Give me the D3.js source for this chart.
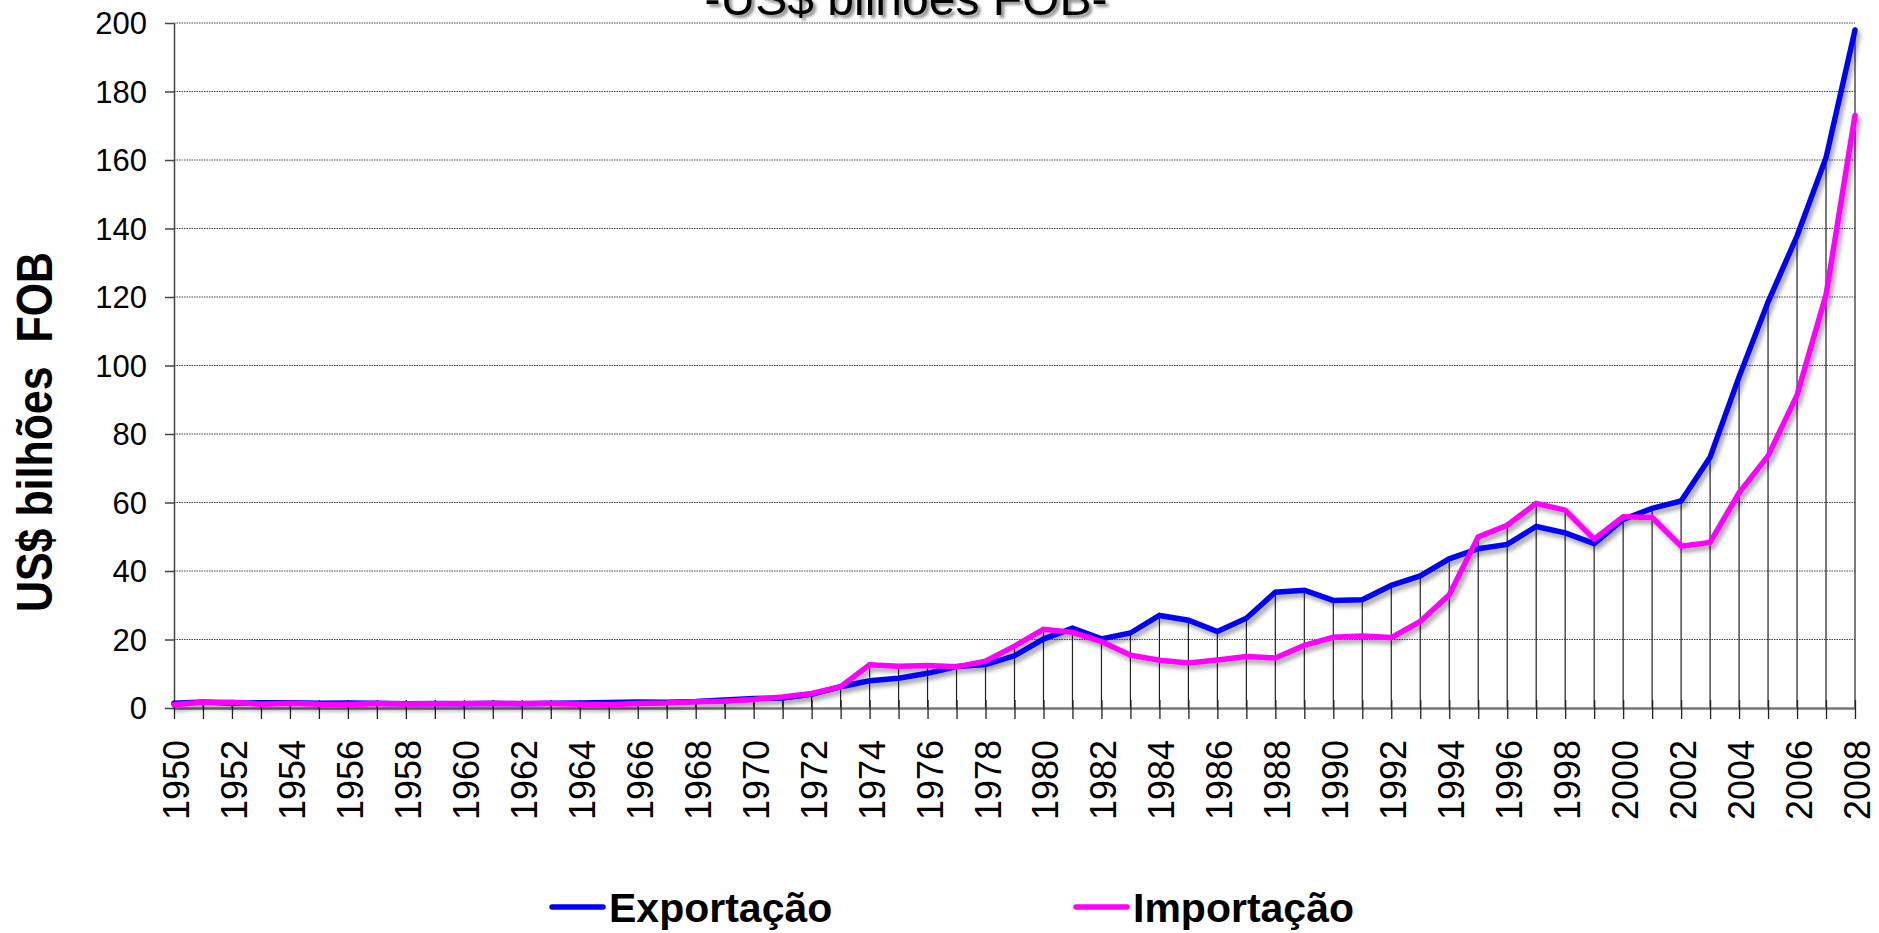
<!DOCTYPE html>
<html><head><meta charset="utf-8">
<script src="https://cdn.jsdelivr.net/npm/d3@7"></script>
<style>
body{margin:0;background:#fff;}
svg{display:block;font-family:Arial,'Liberation Sans',sans-serif;}
</style>
</head><body>
<svg id="c" width="1879" height="933"></svg>
<script>
const years = [1950,1951,1952,1953,1954,1955,1956,1957,1958,1959,1960,1961,1962,1963,1964,1965,1966,1967,1968,1969,
1970,1971,1972,1973,1974,1975,1976,1977,1978,1979,1980,1981,1982,1983,1984,1985,1986,1987,1988,1989,
1990,1991,1992,1993,1994,1995,1996,1997,1998,1999,2000,2001,2002,2003,2004,2005,2006,2007,2008];
const exportacao = [1.36,1.77,1.42,1.54,1.56,1.42,1.48,1.39,1.24,1.28,1.27,1.40,1.21,1.41,1.43,1.60,1.74,1.65,1.88,2.31,
2.74,2.90,3.99,6.20,7.95,8.67,10.13,12.12,12.66,15.24,20.13,23.29,20.18,21.90,27.01,25.64,22.35,26.22,33.79,34.38,
31.41,31.62,35.79,38.55,43.55,46.51,47.75,52.99,51.14,48.01,55.09,58.29,60.44,73.20,96.68,118.53,137.81,160.65,197.94];
const importacao = [0.93,1.70,1.70,1.12,1.41,1.10,1.05,1.28,1.18,1.21,1.29,1.29,1.30,1.29,1.09,0.94,1.30,1.44,1.86,1.99,
2.51,3.25,4.23,6.19,12.64,12.21,12.38,12.02,13.68,18.08,22.96,22.09,19.40,15.43,13.92,13.15,14.04,15.05,14.61,18.26,
20.66,21.04,20.55,25.26,33.08,49.97,53.35,59.75,57.76,49.30,55.85,55.60,47.24,48.33,62.84,73.61,91.35,120.62,172.98];
const yTicks = [0,20,40,60,80,100,120,140,160,180,200];
const xLabelYears = [1950,1952,1954,1956,1958,1960,1962,1964,1966,1968,1970,1972,1974,1976,1978,1980,1982,1984,1986,1988,
1990,1992,1994,1996,1998,2000,2002,2004,2006,2008];
const seriesNames = ["Exportação","Importação"];
const seriesColors = ["#0000ff","#ff00ff"];
const titleText = "-US$ bilhões FOB-";
const yTitle = "US$ bilhões  FOB";

const svg = d3.select("#c");
const x = d3.scaleLinear().domain([1950,2008]).range([174,1855]);
const y = d3.scaleLinear().domain([0,200]).range([708,23]);

const defs = svg.append("defs");
const f = defs.append("filter").attr("id","sh").attr("x","-5%").attr("y","-5%").attr("width","110%").attr("height","115%");
f.append("feDropShadow").attr("dx",3).attr("dy",4).attr("stdDeviation",2.2)
  .attr("flood-color","#000").attr("flood-opacity",0.35);
const ft = defs.append("filter").attr("id","tsh").attr("x","-5%").attr("y","-50%").attr("width","110%").attr("height","200%");
ft.append("feDropShadow").attr("dx",3).attr("dy",3).attr("stdDeviation",1.5)
  .attr("flood-color","#000").attr("flood-opacity",0.45);

// gridlines
svg.append("g").selectAll("line").data(yTicks.filter(d=>d>0)).join("line")
  .attr("x1",x(1950)).attr("x2",x(2008)).attr("y1",d=>y(d)).attr("y2",d=>y(d))
  .attr("stroke","#444").attr("stroke-width",1).attr("stroke-dasharray","1.5 1");

// drop lines
svg.append("g").selectAll("line").data(years).join("line")
  .attr("x1",d=>x(d)).attr("x2",d=>x(d))
  .attr("y1",(d,i)=>y(Math.max(exportacao[i],importacao[i]))).attr("y2",y(0))
  .attr("stroke","#222").attr("stroke-width",1.2);

// y axis
const ya = d3.axisLeft(y).tickValues(yTicks).tickSize(9).tickPadding(18).tickSizeOuter(0);
const gy = svg.append("g").attr("transform",`translate(${x(1950)},0)`).call(ya);
gy.select(".domain").attr("stroke","#444").attr("stroke-width",1.5);
gy.selectAll(".tick line").attr("stroke","#444").attr("stroke-width",1.5);
gy.selectAll(".tick text").attr("font-size",31).attr("fill","#000")
  .attr("font-family","Arial,'Liberation Sans',sans-serif").attr("dy","0.35em");

// x axis
const xa = d3.axisBottom(x).tickValues(years).tickSize(11).tickFormat("").tickSizeOuter(0);
const gx = svg.append("g").attr("transform",`translate(0,${y(0)})`).call(xa);
gx.select(".domain").attr("stroke","#777").attr("stroke-width",2.5);
gx.selectAll(".tick line").attr("y1",-8).attr("stroke","#222").attr("stroke-width",1.3);

svg.append("g").selectAll("text").data(xLabelYears).join("text")
  .attr("transform",d=>`translate(${x(d)+15},740) rotate(-90)`)
  .attr("text-anchor","end").attr("font-size",36).attr("fill","#000").text(d=>d);

// lines
const line = d3.line().x((d,i)=>x(years[i])).y(d=>y(d));
const g = svg.append("g").attr("filter","url(#sh)");
[exportacao, importacao].forEach((s,k)=>{
  g.append("path").datum(s).attr("d",line).attr("fill","none")
    .attr("stroke",seriesColors[k]).attr("stroke-width",5.5)
    .attr("stroke-linecap","round");
});

// title
svg.append("text").attr("x",906).attr("y",15).attr("text-anchor","middle")
  .attr("font-size",48).attr("fill","#000").attr("filter","url(#tsh)").text(titleText);

// y title
svg.append("text").attr("transform","translate(52,432) rotate(-90)")
  .attr("text-anchor","middle").attr("font-size",50).attr("font-weight","bold")
  .attr("textLength",360).attr("lengthAdjust","spacingAndGlyphs")
  .style("white-space","pre").text(yTitle);

// legend
const legX = [550,1074];
const lg = svg.append("g");
seriesNames.forEach((n,k)=>{
  lg.append("line").attr("x1",legX[k]+2).attr("x2",legX[k]+53).attr("y1",907).attr("y2",907)
    .attr("stroke",seriesColors[k]).attr("stroke-width",5.5).attr("stroke-linecap","round");
  lg.append("text").attr("x",legX[k]+59).attr("y",922).attr("font-size",41)
    .attr("font-weight","bold").attr("fill","#000").text(n);
});
</script>
</body></html>
